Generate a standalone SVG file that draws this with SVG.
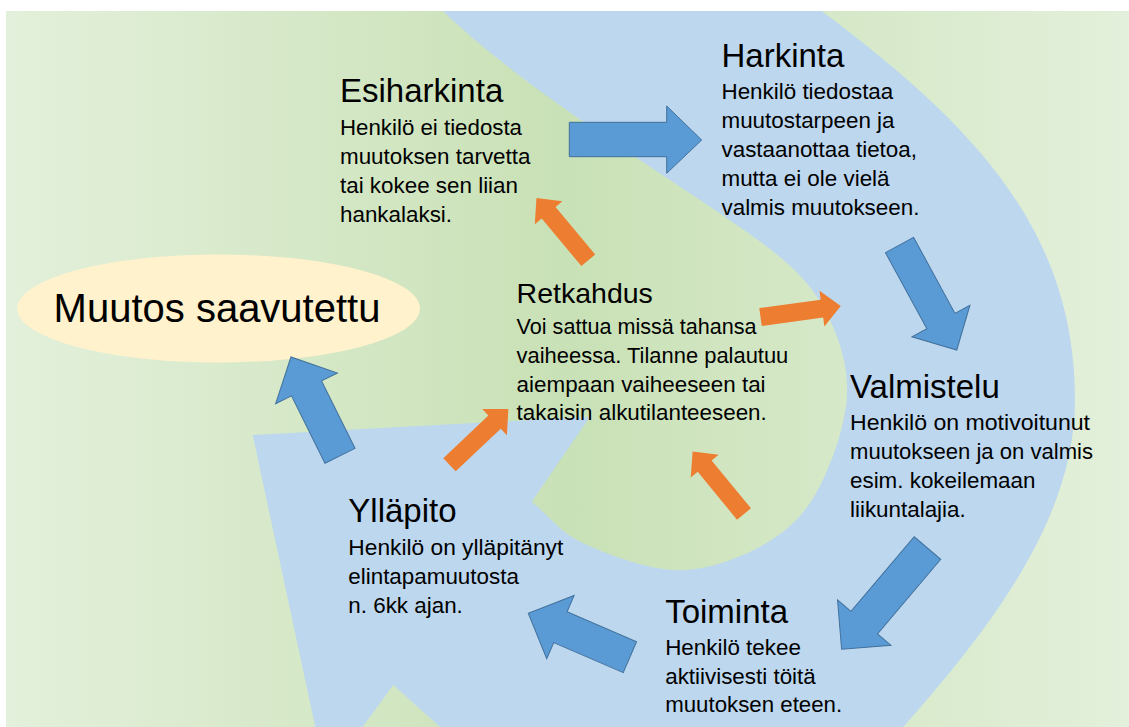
<svg xmlns="http://www.w3.org/2000/svg" width="1129" height="727" viewBox="0 0 1129 727">
<defs>
<linearGradient id="bg" gradientUnits="userSpaceOnUse" x1="6" y1="0" x2="1129" y2="0">
<stop offset="0" stop-color="#e3f0db"/>
<stop offset="0.5" stop-color="#c9e1b6"/>
<stop offset="1" stop-color="#e3f0db"/>
</linearGradient>
<clipPath id="frame"><rect x="6" y="11" width="1123" height="716"/></clipPath>
<style>
.title{font-family:"Liberation Sans",Arial,sans-serif;font-size:33px;fill:#000}
.body{font-family:"Liberation Sans",Arial,sans-serif;font-size:22.4px;fill:#000}
.big{font-family:"Liberation Sans",Arial,sans-serif;font-size:40px;fill:#000}
.barrow{fill:#5b9bd5;stroke:#41719c;stroke-width:1}
.oarrow{fill:#ed7d31}
</style>
</defs>
<rect x="0" y="0" width="1129" height="727" fill="#ffffff"/>
<g clip-path="url(#frame)">
<rect x="6" y="11" width="1123" height="716" fill="url(#bg)"/>
<path id="band" fill="#bdd7ee" d="M252.7,435 L590,416.7 L531.7,501.7 C548.8,515.5 558.8,531.6 583,543 C607.2,554.4 647.2,569.4 676.7,570 C706.2,570.6 737,559.2 760,546.7 C783,534.2 800.5,519.5 815,495 C829.5,470.6 844.2,429.2 846.7,400 C849.2,370.8 841.1,343.8 830,320 C818.9,296.2 805,278 780,257 C715,203 540,105 443,11 L821.7,11 C973.7,125 1075,230 1075,400 C1075,520 989,629.5 903.3,727 L903.3,760 L440,760 L440,727 L393.3,685 L326,777 Z"/>
</g>
<g id="muutos-saavutettu">
<ellipse cx="218.6" cy="308.5" rx="201.4" ry="54" fill="#fff2cc"/>
<text class="big" x="53.6" y="321.7">Muutos saavutettu</text>
</g>
<g id="esiharkinta">
<text class="title" x="340" y="101.7">Esiharkinta</text>
<text class="body" x="340" y="135" textLength="182" lengthAdjust="spacingAndGlyphs">Henkilö ei tiedosta</text>
<text class="body" x="340" y="164">muutoksen tarvetta</text>
<text class="body" x="340" y="193">tai kokee sen liian</text>
<text class="body" x="340" y="222">hankalaksi.</text>
</g>
<g id="harkinta">
<text class="title" x="721.5" y="66.7">Harkinta</text>
<text class="body" x="721.5" y="99">Henkilö tiedostaa</text>
<text class="body" x="721.5" y="128">muutostarpeen ja</text>
<text class="body" x="721.5" y="157">vastaanottaa tietoa,</text>
<text class="body" x="721.5" y="186">mutta ei ole vielä</text>
<text class="body" x="721.5" y="215">valmis muutokseen.</text>
</g>
<g id="retkahdus">
<text class="title" x="516.6" y="303.3" style="font-size:28.5px">Retkahdus</text>
<text class="body" x="516.6" y="334" textLength="240" lengthAdjust="spacingAndGlyphs">Voi sattua missä tahansa</text>
<text class="body" x="516.6" y="363" textLength="271.7" lengthAdjust="spacingAndGlyphs">vaiheessa. Tilanne palautuu</text>
<text class="body" x="516.6" y="392">aiempaan vaiheeseen tai</text>
<text class="body" x="516.6" y="420">takaisin alkutilanteeseen.</text>
</g>
<g id="valmistelu">
<text class="title" x="850" y="398.3">Valmistelu</text>
<text class="body" x="850" y="430" textLength="240" lengthAdjust="spacingAndGlyphs">Henkilö on motivoitunut</text>
<text class="body" x="850" y="459" textLength="243" lengthAdjust="spacingAndGlyphs">muutokseen ja on valmis</text>
<text class="body" x="850" y="488">esim. kokeilemaan</text>
<text class="body" x="850" y="517">liikuntalajia.</text>
</g>
<g id="toiminta">
<text class="title" x="665.2" y="623.3">Toiminta</text>
<text class="body" x="665.2" y="655">Henkilö tekee</text>
<text class="body" x="665.2" y="683.5">aktiivisesti töitä</text>
<text class="body" x="665.2" y="712" textLength="177" lengthAdjust="spacingAndGlyphs">muutoksen eteen.</text>
</g>
<g id="yllapito">
<text class="title" x="348.3" y="521.7">Ylläpito</text>
<text class="body" x="348.3" y="555" textLength="215" lengthAdjust="spacingAndGlyphs">Henkilö on ylläpitänyt</text>
<text class="body" x="348.3" y="584">elintapamuutosta</text>
<text class="body" x="348.3" y="613">n. 6kk ajan.</text>
</g>
<g id="connectors">
<path class="barrow" d="M569.3,122.3 H666.7 V106 L701.7,140 L666.7,173.3 V156.7 H569.3 Z"/>
<path class="barrow" transform="translate(899.5,245) rotate(61.4)" d="M0,-16 H86.6 V-33 L119.6,0 L86.6,33 V16 H0 Z"/>
<path class="barrow" transform="translate(927.5,548) rotate(130.3)" d="M0,-17.4 H97.8 V-35 L132.8,0 L97.8,35 V17.4 H0 Z"/>
<path class="barrow" transform="translate(629.9,657.2) rotate(203.4)" d="M0,-16.8 H75.7 V-34.5 L110.7,0 L75.7,34.5 V16.8 H0 Z"/>
<path class="barrow" transform="translate(340,455.8) rotate(-116.4)" d="M0,-16.8 H75.3 V-34.5 L110.3,0 L75.3,34.5 V16.8 H0 Z"/>
<path class="oarrow" transform="translate(588.3,260.3) rotate(-129.8)" d="M0,-9 H62 V-18 L81,0 L62,18 V9 H0 Z"/>
<path class="oarrow" transform="translate(760.5,317) rotate(-7.8)" d="M0,-9 H62 V-18 L81,0 L62,18 V9 H0 Z"/>
<path class="oarrow" transform="translate(744,514) rotate(-129.4)" d="M0,-9 H62 V-18 L81,0 L62,18 V9 H0 Z"/>
<path class="oarrow" transform="translate(449.5,464.7) rotate(-43.4)" d="M0,-9 H62 V-18 L81,0 L62,18 V9 H0 Z"/>
</g>
</svg>
